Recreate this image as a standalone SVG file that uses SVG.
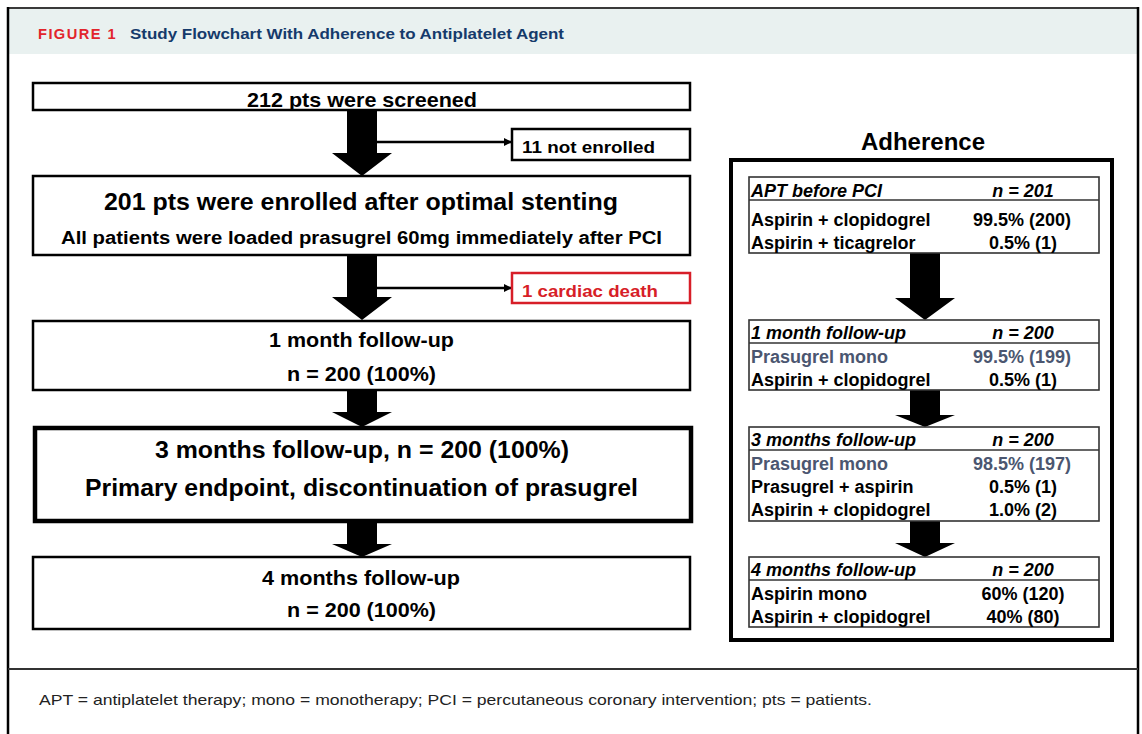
<svg xmlns="http://www.w3.org/2000/svg" width="1142" height="734" viewBox="0 0 1142 734">
<style>
  .box{fill:#fff;stroke:#000;stroke-width:2.5}
  .thick{fill:#fff;stroke:#000;stroke-width:4.5}
  .tbl{fill:#fff;stroke:#333;stroke-width:1.6}
  .t{font-family:"Liberation Sans",Arial,sans-serif;font-weight:bold;fill:#000}
  .r{font-family:"Liberation Sans",Arial,sans-serif;font-weight:bold;font-size:18px;fill:#000}
  .hd{font-style:italic}
  .pm{fill:#4b5670}
  .mid{text-anchor:middle}
  .arrow{fill:#000}
  .line{stroke:#000;stroke-width:2.5;fill:none}
</style>
<defs>
  <marker id="ah" markerWidth="8" markerHeight="8" refX="7" refY="4" orient="auto" markerUnits="userSpaceOnUse">
    <path d="M0,0 L8,4 L0,8 z" fill="#000"/>
  </marker>
</defs>
<rect x="0" y="0" width="1142" height="734" fill="#fff"/>
<g id="frame">
  <rect x="9" y="9" width="1128" height="45" fill="#e9f1f0"/>
  <line x1="7" y1="8" x2="1139" y2="8" stroke="#3a3a3a" stroke-width="2"/>
  <line x1="8" y1="7" x2="8" y2="734" stroke="#000" stroke-width="2.5"/>
  <line x1="1138" y1="7" x2="1138" y2="734" stroke="#000" stroke-width="2.5"/>
  <line x1="8" y1="669" x2="1138" y2="669" stroke="#333" stroke-width="2"/>
  <text x="38" y="39" font-family="'Liberation Sans',Arial,sans-serif" font-weight="bold" font-size="15.5" fill="#e2242c" letter-spacing="1.5" textLength="79" lengthAdjust="spacingAndGlyphs">FIGURE 1</text>
  <text x="130" y="39" font-family="'Liberation Sans',Arial,sans-serif" font-weight="bold" font-size="15.5" fill="#153a6b" textLength="434" lengthAdjust="spacingAndGlyphs">Study Flowchart With Adherence to Antiplatelet Agent</text>
  <text x="39" y="705" font-family="'Liberation Sans',Arial,sans-serif" font-size="15" fill="#222" textLength="833" lengthAdjust="spacingAndGlyphs">APT = antiplatelet therapy; mono = monotherapy; PCI = percutaneous coronary intervention; pts = patients.</text>
</g>

<g id="connectors">
  <polygon class="arrow" points="347,110 377,110 377,153 392,153 362,176 332,153 347,153"/>
  <polygon class="arrow" points="347,255 377,255 377,297 392,297 362,320 332,297 347,297"/>
  <polygon class="arrow" points="347,390 377,390 377,412 392,412 362,427 332,412 347,412"/>
  <polygon class="arrow" points="347,522 377,522 377,544 392,544 362,557 332,544 347,544"/>
  <line class="line" x1="377" y1="142" x2="511" y2="142" marker-end="url(#ah)"/>
  <line class="line" x1="377" y1="288" x2="511" y2="288" marker-end="url(#ah)"/>
  <polygon class="arrow" points="910,253 940,253 940,298 955,298 925,320 895,298 910,298"/>
  <polygon class="arrow" points="910,390 940,390 940,415 955,415 925,427 895,415 910,415"/>
  <polygon class="arrow" points="910,521 940,521 940,543 955,543 925,557 895,543 910,543"/>
</g>

<g id="screened">
  <rect class="box" x="33" y="83" width="657" height="27"/>
  <text class="t" x="247" y="107" font-size="20.5" textLength="230" lengthAdjust="spacingAndGlyphs">212 pts were screened</text>
</g>
<g id="not-enrolled">
  <rect class="box" x="512" y="129" width="178" height="31"/>
  <text class="t" x="522" y="153" font-size="17" textLength="133" lengthAdjust="spacingAndGlyphs">11 not enrolled</text>
</g>
<g id="enrolled">
  <rect class="box" x="33" y="176" width="657" height="79"/>
  <text class="t" x="104" y="210" font-size="24.5" textLength="514" lengthAdjust="spacingAndGlyphs">201 pts were enrolled after optimal stenting</text>
  <text class="t" x="61" y="244" font-size="18" textLength="601" lengthAdjust="spacingAndGlyphs">All patients were loaded prasugrel 60mg immediately after PCI</text>
</g>
<g id="cardiac-death">
  <rect x="512" y="273" width="178" height="30" fill="#fff" stroke="#d71e28" stroke-width="2.5"/>
  <text class="t" x="522" y="297" font-size="17" style="fill:#d71e28" textLength="136" lengthAdjust="spacingAndGlyphs">1 cardiac death</text>
</g>
<g id="month1">
  <rect class="box" x="33" y="321" width="657" height="69"/>
  <text class="t" x="269" y="347" font-size="20.5" textLength="185" lengthAdjust="spacingAndGlyphs">1 month follow-up</text>
  <text class="t" x="287" y="381" font-size="20.5" textLength="149" lengthAdjust="spacingAndGlyphs">n = 200 (100%)</text>
</g>
<g id="month3">
  <rect class="thick" x="35" y="428" width="656" height="93"/>
  <text class="t" x="155" y="458" font-size="24.5" textLength="414" lengthAdjust="spacingAndGlyphs">3 months follow-up, n = 200 (100%)</text>
  <text class="t" x="85" y="496" font-size="24.5" textLength="553" lengthAdjust="spacingAndGlyphs">Primary endpoint, discontinuation of prasugrel</text>
</g>
<g id="month4">
  <rect class="box" x="33" y="557" width="657" height="72"/>
  <text class="t" x="262" y="585" font-size="20.5" textLength="198" lengthAdjust="spacingAndGlyphs">4 months follow-up</text>
  <text class="t" x="287" y="617" font-size="20.5" textLength="149" lengthAdjust="spacingAndGlyphs">n = 200 (100%)</text>
</g>

<g id="adherence">
  <text class="t mid" x="923" y="150" font-size="24">Adherence</text>
  <rect x="731" y="160" width="381" height="480" fill="none" stroke="#000" stroke-width="4"/>
</g>
<g id="apt-before">
  <rect class="tbl" x="749" y="177" width="350" height="76"/>
  <line x1="749" y1="200" x2="1099" y2="200" stroke="#333" stroke-width="1.6"/>
  <text class="r hd" x="751" y="197">APT before PCI</text>
  <text class="r hd mid" x="1023" y="197">n = 201</text>
  <text class="r" x="751" y="226">Aspirin + clopidogrel</text>
  <text class="r mid" x="1022" y="226">99.5% (200)</text>
  <text class="r" x="751" y="249">Aspirin + ticagrelor</text>
  <text class="r mid" x="1023" y="249">0.5% (1)</text>
</g>
<g id="adh-month1">
  <rect class="tbl" x="749" y="320" width="350" height="70"/>
  <line x1="749" y1="343" x2="1099" y2="343" stroke="#333" stroke-width="1.6"/>
  <text class="r hd" x="751" y="339">1 month follow-up</text>
  <text class="r hd mid" x="1023" y="339">n = 200</text>
  <text class="r pm" x="751" y="363">Prasugrel mono</text>
  <text class="r pm mid" x="1022" y="363">99.5% (199)</text>
  <text class="r" x="751" y="386">Aspirin + clopidogrel</text>
  <text class="r mid" x="1023" y="386">0.5% (1)</text>
</g>
<g id="adh-month3">
  <rect class="tbl" x="749" y="427" width="350" height="94"/>
  <line x1="749" y1="450" x2="1099" y2="450" stroke="#333" stroke-width="1.6"/>
  <text class="r hd" x="751" y="446">3 months follow-up</text>
  <text class="r hd mid" x="1023" y="446">n = 200</text>
  <text class="r pm" x="751" y="470">Prasugrel mono</text>
  <text class="r pm mid" x="1022" y="470">98.5% (197)</text>
  <text class="r" x="751" y="493">Prasugrel + aspirin</text>
  <text class="r mid" x="1023" y="493">0.5% (1)</text>
  <text class="r" x="751" y="516">Aspirin + clopidogrel</text>
  <text class="r mid" x="1023" y="516">1.0% (2)</text>
</g>
<g id="adh-month4">
  <rect class="tbl" x="749" y="557" width="350" height="70"/>
  <line x1="749" y1="580" x2="1099" y2="580" stroke="#333" stroke-width="1.6"/>
  <text class="r hd" x="751" y="576">4 months follow-up</text>
  <text class="r hd mid" x="1023" y="576">n = 200</text>
  <text class="r" x="751" y="600">Aspirin mono</text>
  <text class="r mid" x="1023" y="600">60% (120)</text>
  <text class="r" x="751" y="623">Aspirin + clopidogrel</text>
  <text class="r mid" x="1023" y="623">40% (80)</text>
</g>
</svg>
